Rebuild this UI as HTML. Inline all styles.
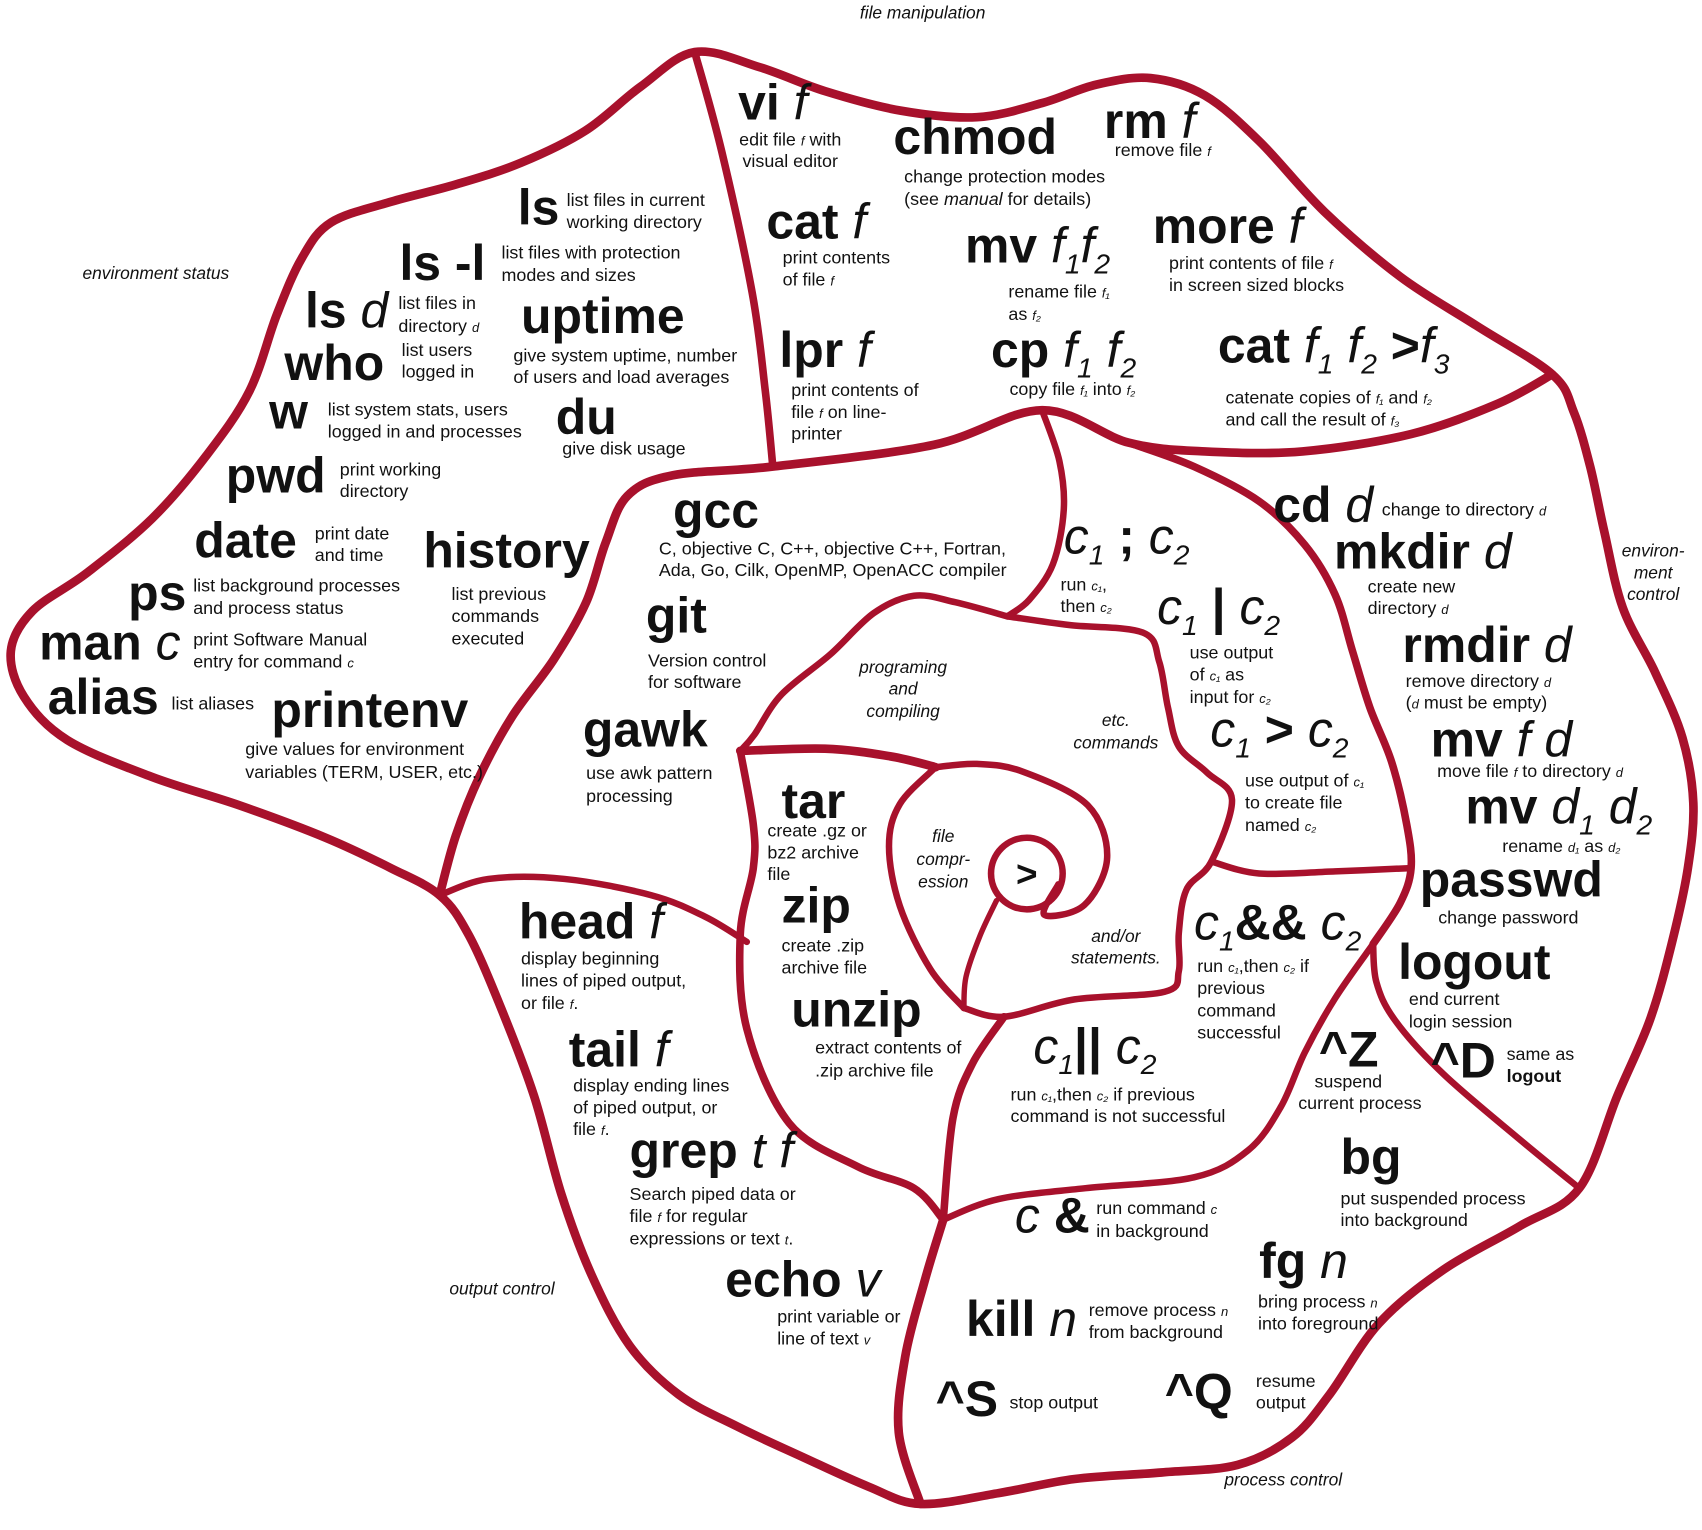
<!DOCTYPE html>
<html><head><meta charset="utf-8">
<style>
html,body{margin:0;padding:0;background:#fff;}
svg{display:block;}
.c{font-family:"Liberation Sans",sans-serif;font-weight:bold;font-size:46px;fill:#111;}
.v{font-weight:normal;font-style:italic;}
.s{font-size:26px;font-weight:normal;font-style:italic;}
.d{font-family:"Liberation Sans",sans-serif;font-size:16.5px;fill:#111;}
.di{font-style:italic;font-size:12px;}
.l{font-family:"Liberation Sans",sans-serif;font-size:16px;font-style:italic;fill:#111;}
.ln{fill:none;stroke:#a8112c;stroke-linecap:round;stroke-linejoin:round;}
</style></head>
<body>
<svg id="map" width="1702" height="1530" viewBox="0 0 1568 1410" preserveAspectRatio="none" xmlns="http://www.w3.org/2000/svg">
<g id="lines"></g>

<g>
<text class="l" x="850" y="17" text-anchor="middle">file manipulation</text>
<text class="l" x="76" y="257">environment status</text>
<text class="l" x="1523" text-anchor="middle"><tspan x="1523" y="513">environ-</tspan><tspan x="1523" y="533">ment</tspan><tspan x="1523" y="553">control</tspan></text>
<text class="l" x="414" y="1193">output control</text>
<text class="l" x="1128" y="1369">process control</text>
<text class="l" text-anchor="middle"><tspan x="832" y="620">programing</tspan><tspan x="832" y="640">and</tspan><tspan x="832" y="661">compiling</tspan></text>
<text class="l" text-anchor="middle"><tspan x="1028" y="669">etc.</tspan><tspan x="1028" y="690">commands</tspan></text>
<text class="l" text-anchor="middle"><tspan x="869" y="776">file</tspan><tspan x="869" y="797">compr-</tspan><tspan x="869" y="818">ession</tspan></text>
<text class="l" text-anchor="middle"><tspan x="1028" y="868">and/or</tspan><tspan x="1028" y="888">statements.</tspan></text>
<text class="c" x="946" y="817" text-anchor="middle" style="font-size:34px">&gt;</text>
</g>

<g>
<text class="c" x="680" y="110">vi <tspan class="v">f</tspan></text>
<text class="d"><tspan x="681" y="134">edit file <tspan class="di">f</tspan> with</tspan><tspan x="684" y="154">visual editor</tspan></text>
<text class="c" x="823" y="142">chmod</text>
<text class="d"><tspan x="833" y="168">change protection modes</tspan><tspan x="833" y="189">(see <tspan font-style="italic">manual</tspan> for details)</tspan></text>
<text class="c" x="1017" y="127">rm <tspan class="v">f</tspan></text>
<text class="d" x="1027" y="144">remove file <tspan class="di">f</tspan></text>
<text class="c" x="706" y="220">cat <tspan class="v">f</tspan></text>
<text class="d"><tspan x="721" y="243">print contents</tspan><tspan x="721" y="263">of file <tspan class="di">f</tspan></tspan></text>
<text class="c" x="889" y="242">mv <tspan class="v">f</tspan><tspan class="s" dy="10">1</tspan><tspan class="v" dy="-10">f</tspan><tspan class="s" dy="10">2</tspan></text>
<text class="d"><tspan x="929" y="274">rename file <tspan class="di">f₁</tspan></tspan><tspan x="929" y="295">as <tspan class="di">f₂</tspan></tspan></text>
<text class="c" x="1062" y="224">more <tspan class="v">f</tspan></text>
<text class="d"><tspan x="1077" y="248">print contents of file <tspan class="di">f</tspan></tspan><tspan x="1077" y="268">in screen sized blocks</tspan></text>
<text class="c" x="718" y="338">lpr <tspan class="v">f</tspan></text>
<text class="d"><tspan x="729" y="365">print contents of</tspan><tspan x="729" y="385">file <tspan class="di">f</tspan> on line-</tspan><tspan x="729" y="405">printer</tspan></text>
<text class="c" x="913" y="338">cp <tspan class="v">f</tspan><tspan class="s" dy="10">1</tspan><tspan class="v" dy="-10"> f</tspan><tspan class="s" dy="10">2</tspan></text>
<text class="d" x="930" y="364">copy file <tspan class="di">f₁</tspan> into <tspan class="di">f₂</tspan></text>
<text class="c" x="1122" y="334">cat <tspan class="v">f</tspan><tspan class="s" dy="10">1</tspan><tspan class="v" dy="-10"> f</tspan><tspan class="s" dy="10">2</tspan><tspan dy="-10"> &gt;</tspan><tspan class="v">f</tspan><tspan class="s" dy="10">3</tspan></text>
<text class="d"><tspan x="1129" y="372">catenate copies of <tspan class="di">f₁</tspan> and <tspan class="di">f₂</tspan></tspan><tspan x="1129" y="392">and call the result of <tspan class="di">f₃</tspan></tspan></text>
</g>

<g>
<text class="c" x="477" y="207">ls</text>
<text class="d"><tspan x="522" y="190">list files in current</tspan><tspan x="522" y="210">working directory</tspan></text>
<text class="c" x="368" y="258">ls -l</text>
<text class="d"><tspan x="462" y="238">list files with protection</tspan><tspan x="462" y="259">modes and sizes</tspan></text>
<text class="c" x="281" y="302">ls <tspan class="v">d</tspan></text>
<text class="d"><tspan x="367" y="285">list files in</tspan><tspan x="367" y="306">directory <tspan class="di">d</tspan></tspan></text>
<text class="c" x="480" y="307">uptime</text>
<text class="d"><tspan x="473" y="333">give system uptime, number</tspan><tspan x="473" y="353">of users and load averages</tspan></text>
<text class="c" x="262" y="350">who</text>
<text class="d"><tspan x="370" y="328">list users</tspan><tspan x="370" y="348">logged in</tspan></text>
<text class="c" x="248" y="395">w</text>
<text class="d"><tspan x="302" y="383">list system stats, users</tspan><tspan x="302" y="403">logged in and processes</tspan></text>
<text class="c" x="512" y="400">du</text>
<text class="d" x="518" y="419">give disk usage</text>
<text class="c" x="208" y="454">pwd</text>
<text class="d"><tspan x="313" y="438">print working</tspan><tspan x="313" y="458">directory</tspan></text>
<text class="c" x="179" y="514">date</text>
<text class="d"><tspan x="290" y="497">print date</tspan><tspan x="290" y="517">and time</tspan></text>
<text class="c" x="390" y="523">history</text>
<text class="d"><tspan x="416" y="553">list previous</tspan><tspan x="416" y="573">commands</tspan><tspan x="416" y="594">executed</tspan></text>
<text class="c" x="118" y="562">ps</text>
<text class="d"><tspan x="178" y="545">list background processes</tspan><tspan x="178" y="566">and process status</tspan></text>
<text class="c" x="36" y="608">man <tspan class="v">c</tspan></text>
<text class="d"><tspan x="178" y="595">print Software Manual</tspan><tspan x="178" y="615">entry for command <tspan class="di">c</tspan></tspan></text>
<text class="c" x="44" y="658">alias</text>
<text class="d" x="158" y="654">list aliases</text>
<text class="c" x="250" y="670">printenv</text>
<text class="d"><tspan x="226" y="696">give values for environment</tspan><tspan x="226" y="717">variables (TERM, USER, etc.)</tspan></text>
</g>

<g>
<text class="c" x="620" y="486">gcc</text>
<text class="d"><tspan x="607" y="511">C, objective C, C++, objective C++, Fortran,</tspan><tspan x="607" y="531">Ada, Go, Cilk, OpenMP, OpenACC compiler</tspan></text>
<text class="c" x="595" y="583">git</text>
<text class="d"><tspan x="597" y="614">Version control</tspan><tspan x="597" y="634">for software</tspan></text>
<text class="c" x="537" y="688">gawk</text>
<text class="d"><tspan x="540" y="718">use awk pattern</tspan><tspan x="540" y="739">processing</tspan></text>
<text class="c" x="720" y="754">tar</text>
<text class="d"><tspan x="707" y="771">create .gz or</tspan><tspan x="707" y="791">bz2 archive</tspan><tspan x="707" y="811">file</tspan></text>
<text class="c" x="720" y="850">zip</text>
<text class="d"><tspan x="720" y="877">create .zip</tspan><tspan x="720" y="897">archive file</tspan></text>
<text class="c" x="729" y="946">unzip</text>
<text class="d"><tspan x="751" y="971">extract contents of</tspan><tspan x="751" y="992">.zip archive file</tspan></text>
</g>

<g>
<text class="c" x="980" y="510"><tspan class="v">c</tspan><tspan class="s" dy="10">1</tspan><tspan dy="-10"> ; </tspan><tspan class="v">c</tspan><tspan class="s" dy="10">2</tspan></text>
<text class="d"><tspan x="977" y="544">run <tspan class="di">c₁</tspan>,</tspan><tspan x="977" y="564">then <tspan class="di">c₂</tspan></tspan></text>
<text class="c" x="1066" y="575"><tspan class="v">c</tspan><tspan class="s" dy="10">1</tspan><tspan dy="-10"> | </tspan><tspan class="v">c</tspan><tspan class="s" dy="10">2</tspan></text>
<text class="d"><tspan x="1096" y="607">use output</tspan><tspan x="1096" y="627">of <tspan class="di">c₁</tspan> as</tspan><tspan x="1096" y="648">input for <tspan class="di">c₂</tspan></tspan></text>
<text class="c" x="1115" y="688"><tspan class="v">c</tspan><tspan class="s" dy="10">1</tspan><tspan dy="-10"> &gt; </tspan><tspan class="v">c</tspan><tspan class="s" dy="10">2</tspan></text>
<text class="d"><tspan x="1147" y="725">use output of <tspan class="di">c₁</tspan></tspan><tspan x="1147" y="745">to create file</tspan><tspan x="1147" y="766">named <tspan class="di">c₂</tspan></tspan></text>
<text class="c" x="1100" y="866"><tspan class="v">c</tspan><tspan class="s" dy="10">1</tspan><tspan dy="-10">&amp;&amp; </tspan><tspan class="v">c</tspan><tspan class="s" dy="10">2</tspan></text>
<text class="d"><tspan x="1103" y="896">run <tspan class="di">c₁</tspan>,then <tspan class="di">c₂</tspan> if</tspan><tspan x="1103" y="916">previous</tspan><tspan x="1103" y="937">command</tspan><tspan x="1103" y="957">successful</tspan></text>
<text class="c" x="952" y="980"><tspan class="v">c</tspan><tspan class="s" dy="10">1</tspan><tspan dy="-10">|| </tspan><tspan class="v">c</tspan><tspan class="s" dy="10">2</tspan></text>
<text class="d"><tspan x="931" y="1014">run <tspan class="di">c₁</tspan>,then <tspan class="di">c₂</tspan> if previous</tspan><tspan x="931" y="1034">command is not successful</tspan></text>
</g>

<g>
<text class="c" x="1173" y="481">cd <tspan class="v">d</tspan></text>
<text class="d" x="1273" y="475">change to directory <tspan class="di">d</tspan></text>
<text class="c" x="1229" y="524">mkdir <tspan class="v">d</tspan></text>
<text class="d"><tspan x="1260" y="546">create new</tspan><tspan x="1260" y="566">directory <tspan class="di">d</tspan></tspan></text>
<text class="c" x="1292" y="610">rmdir <tspan class="v">d</tspan></text>
<text class="d"><tspan x="1295" y="633">remove directory <tspan class="di">d</tspan></tspan><tspan x="1295" y="653">(<tspan class="di">d</tspan> must be empty)</tspan></text>
<text class="c" x="1318" y="697">mv <tspan class="v">f d</tspan></text>
<text class="d" x="1324" y="716">move file <tspan class="di">f</tspan> to directory <tspan class="di">d</tspan></text>
<text class="c" x="1350" y="759">mv <tspan class="v">d</tspan><tspan class="s" dy="10">1</tspan><tspan class="v" dy="-10"> d</tspan><tspan class="s" dy="10">2</tspan></text>
<text class="d" x="1384" y="785">rename <tspan class="di">d₁</tspan> as <tspan class="di">d₂</tspan></text>
<text class="c" x="1308" y="826">passwd</text>
<text class="d" x="1325" y="851">change password</text>
<text class="c" x="1288" y="902">logout</text>
<text class="d"><tspan x="1298" y="926">end current</tspan><tspan x="1298" y="947">login session</tspan></text>
<text class="c" x="1318" y="993">^D</text>
<text class="d"><tspan x="1388" y="977">same as</tspan><tspan x="1388" y="997" font-weight="bold">logout</tspan></text>
</g>

<g>
<text class="c" x="1215" y="983">^Z</text>
<text class="d"><tspan x="1211" y="1002">suspend</tspan><tspan x="1196" y="1022">current process</tspan></text>
<text class="c" x="1235" y="1082">bg</text>
<text class="d"><tspan x="1235" y="1110">put suspended process</tspan><tspan x="1235" y="1130">into background</tspan></text>
<text class="c" x="935" y="1136"><tspan class="v">c</tspan> &amp;</text>
<text class="d"><tspan x="1010" y="1119">run command <tspan class="di">c</tspan></tspan><tspan x="1010" y="1140">in background</tspan></text>
<text class="c" x="1160" y="1178">fg <tspan class="v">n</tspan></text>
<text class="d"><tspan x="1159" y="1205">bring process <tspan class="di">n</tspan></tspan><tspan x="1159" y="1225">into foreground</tspan></text>
<text class="c" x="890" y="1231">kill <tspan class="v">n</tspan></text>
<text class="d"><tspan x="1003" y="1213">remove process <tspan class="di">n</tspan></tspan><tspan x="1003" y="1233">from background</tspan></text>
<text class="c" x="862" y="1305">^S</text>
<text class="d" x="930" y="1298">stop output</text>
<text class="c" x="1073" y="1298">^Q</text>
<text class="d"><tspan x="1157" y="1278">resume</tspan><tspan x="1157" y="1298">output</tspan></text>
</g>

<g>
<text class="c" x="478" y="865">head <tspan class="v">f</tspan></text>
<text class="d"><tspan x="480" y="889">display beginning</tspan><tspan x="480" y="909">lines of piped output,</tspan><tspan x="480" y="930">or file <tspan class="di">f</tspan>.</tspan></text>
<text class="c" x="524" y="983">tail <tspan class="v">f</tspan></text>
<text class="d"><tspan x="528" y="1006">display ending lines</tspan><tspan x="528" y="1026">of piped output, or</tspan><tspan x="528" y="1046">file <tspan class="di">f</tspan>.</tspan></text>
<text class="c" x="580" y="1076">grep <tspan class="v">t f</tspan></text>
<text class="d"><tspan x="580" y="1106">Search piped data or</tspan><tspan x="580" y="1126">file <tspan class="di">f</tspan> for regular</tspan><tspan x="580" y="1147">expressions or text <tspan class="di">t</tspan>.</tspan></text>
<text class="c" x="668" y="1195">echo <tspan class="v">v</tspan></text>
<text class="d"><tspan x="716" y="1219">print variable or</tspan><tspan x="716" y="1239">line of text <tspan class="di">v</tspan></tspan></text>
</g>
</svg>
<script>
const NS='http://www.w3.org/2000/svg';
const lines=[
 {n:'outer-boundary',w:8,close:true,p:[[640,48],[700,62],[760,84],[830,102],[900,108],[960,95],[1010,78],[1060,72],[1110,88],[1160,130],[1220,195],[1290,255],[1360,300],[1430,345],[1450,380],[1465,430],[1478,490],[1495,560],[1525,620],[1550,680],[1560,740],[1555,800],[1540,870],[1520,940],[1490,1010],[1455,1095],[1400,1130],[1330,1170],[1270,1220],[1225,1285],[1190,1325],[1140,1350],[1070,1357],[990,1363],[920,1376],[848,1386],[800,1370],[740,1343],[680,1315],[625,1285],[580,1240],[545,1175],[517,1100],[492,1010],[462,930],[432,862],[405,825],[360,800],[300,772],[220,742],[140,716],[62,682],[22,642],[10,600],[30,563],[80,528],[140,478],[190,420],[230,360],[255,290],[278,238],[305,205],[360,186],[420,170],[480,150],[540,120],[590,80]]},
 {n:'file-env-divider',w:7,p:[[640,48],[665,140],[693,270],[705,360],[712,430]]},
 {n:'spiral-main-arm',w:8,p:[[405,825],[420,770],[442,715],[472,660],[510,608],[540,555],[558,500],[578,457],[620,438],[712,430],[860,410],[960,378],[1040,408],[1110,416],[1200,416],[1300,400],[1380,372],[1430,345]]},
 {n:'c1-c2-divider',w:6,p:[[960,378],[976,425],[980,470],[970,520],[948,553],[928,568]]},
 {n:'cd-divider',w:7,p:[[1040,408],[1100,430],[1160,462],[1202,502],[1230,548],[1246,600],[1262,652],[1282,702],[1296,760],[1300,800],[1290,832],[1265,870]]},
 {n:'programming-top',w:6,p:[[928,568],[880,555],[842,549],[805,565],[765,603],[720,640],[695,677],[682,692]]},
 {n:'etc-commands-border',w:6,p:[[928,568],[985,576],[1053,583],[1068,610],[1076,652],[1086,688],[1112,712],[1135,737],[1116,794],[1093,820],[1086,860],[1086,895],[1073,914],[990,921],[925,937],[888,929]]},
 {n:'redirect-bottom',w:6,p:[[1116,794],[1160,805],[1230,803],[1300,800]]},
 {n:'tar-top-band',w:8,p:[[682,692],[760,690],[820,697],[862,707]]},
 {n:'spiral-inner-left',w:6,p:[[862,707],[829,741],[819,780],[829,835],[857,893],[888,929]]},
 {n:'spiral-inner-right',w:6,p:[[862,707],[900,704],[942,711],[1002,742],[1020,790],[999,834],[962,843],[975,815]]},
 {n:'spiral-tail',w:5,p:[[918,830],[903,862],[890,900],[888,929]]},
 {n:'tar-left-border',w:7,p:[[682,692],[694,760],[694,800],[682,861],[688,948],[727,1035],[790,1075],[842,1095],[869,1124]]},
 {n:'unzip-right',w:7,p:[[925,937],[896,980],[878,1030],[869,1124]]},
 {n:'head-divider',w:6,p:[[405,825],[450,810],[520,810],[600,825],[650,845],[688,868]]},
 {n:'echo-right',w:8,p:[[869,1124],[852,1180],[834,1250],[828,1320],[848,1386]]},
 {n:'process-top',w:6,p:[[869,1124],[920,1105],[1000,1095],[1100,1085],[1150,1060],[1180,1020],[1202,970],[1230,920],[1265,870]]},
 {n:'logout-divider',w:6,p:[[1265,870],[1268,905],[1285,940],[1330,990],[1400,1050],[1455,1095]]}
];
function smooth(p,close){
 const n=p.length;let d='M'+p[0][0]+','+p[0][1];
 const g=i=>close?p[(i+n)%n]:p[Math.max(0,Math.min(n-1,i))];
 const m=close?n:n-1;
 for(let i=0;i<m;i++){
  const p0=g(i-1),p1=g(i),p2=g(i+1),p3=g(i+2);
  const c1=[p1[0]+(p2[0]-p0[0])/6,p1[1]+(p2[1]-p0[1])/6];
  const c2=[p2[0]-(p3[0]-p1[0])/6,p2[1]-(p3[1]-p1[1])/6];
  d+=' C'+c1[0].toFixed(1)+','+c1[1].toFixed(1)+' '+c2[0].toFixed(1)+','+c2[1].toFixed(1)+' '+p2[0]+','+p2[1];
 }
 return d+(close?'Z':'');
}
const g=document.getElementById('lines');
lines.forEach(L=>{
 const el=document.createElementNS(NS,'path');
 el.setAttribute('d',smooth(L.p,L.close));
 el.setAttribute('class','ln');
 el.setAttribute('stroke-width',L.w);
 
 
 g.appendChild(el);
});
const c=document.createElementNS(NS,'circle');
c.setAttribute('cx',946);c.setAttribute('cy',805);c.setAttribute('r',33);
c.setAttribute('class','ln');c.setAttribute('stroke-width',6);


g.appendChild(c);
</script>
</body></html>
